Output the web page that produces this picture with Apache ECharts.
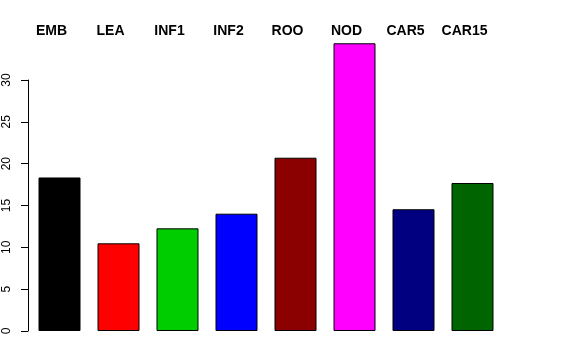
<!DOCTYPE html>
<html>
<head>
<meta charset="utf-8">
<script src="https://cdn.jsdelivr.net/npm/echarts@6/dist/echarts.min.js"></script>
<style>html,body{margin:0;padding:0;background:#fff}#c{width:576px;height:360px}</style>
</head>
<body>
<div id="c"></div>
<script>
var categories = ['EMB', 'LEA', 'INF1', 'INF2', 'ROO', 'NOD', 'CAR5', 'CAR15'];
var values = [18.35, 10.48, 12.27, 14.02, 20.71, 34.39, 14.55, 17.69];
var colors = ['#000000', '#FF0000', '#00CD00', '#0000FF', '#8B0000', '#FF00FF', '#000080', '#006400'];
var yTicks = [0, 5, 10, 15, 20, 25, 30];

var chart = echarts.init(document.getElementById('c'), null, {renderer: 'canvas'});
chart.setOption({
  animation: false,
  backgroundColor: '#ffffff',
  grid: {left: 30, top: 80, width: 472, height: 251},
  xAxis: [{
    type: 'category',
    data: categories,
    position: 'bottom',
    axisLine: {show: false},
    axisTick: {show: false},
    axisLabel: {show: false}
  }, {
    type: 'category',
    data: categories,
    position: 'top',
    axisLine: {show: false},
    axisTick: {show: false},
    axisLabel: {
      interval: 0,
      margin: 41.5,
      padding: [0, 16, 0, 0],
      fontFamily: 'Liberation Sans, Arial, sans-serif',
      fontWeight: 'bold',
      fontSize: 14,
      color: '#000'
    }
  }],
  yAxis: {
    type: 'value',
    min: 0,
    max: 30,
    interval: 5,
    offset: 2,
    splitLine: {show: false},
    axisLine: {show: true, lineStyle: {color: '#000', width: 1}},
    axisTick: {show: true, length: 7, lineStyle: {color: '#000'}},
    axisLabel: {
      rotate: 90,
      margin: 15,
      fontFamily: 'Liberation Sans, Arial, sans-serif',
      fontSize: 12,
      color: '#000',
      customValues: yTicks
    }
  },
  series: [{
    type: 'bar',
    xAxisIndex: 0,
    data: values,
    barWidth: 42,
    clip: false,
    itemStyle: {
      color: function (p) { return colors[p.dataIndex]; },
      borderColor: '#000',
      borderWidth: 1
    }
  }]
});
</script>
</body>
</html>
